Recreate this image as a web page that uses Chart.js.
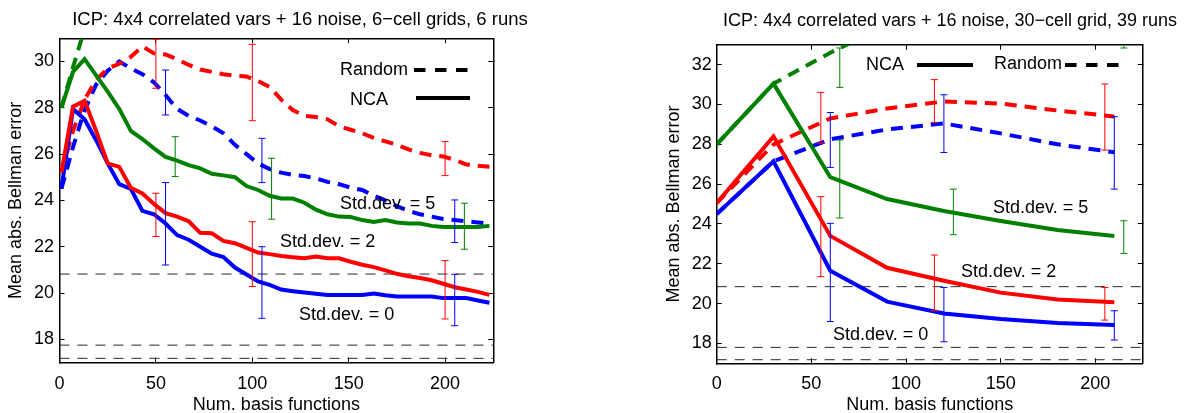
<!DOCTYPE html>
<html><head><meta charset="utf-8">
<script src="https://cdn.jsdelivr.net/npm/chart.js@4.4.1/dist/chart.umd.min.js"></script>
<style>
html,body{margin:0;padding:0;background:#fff;overflow:hidden;}
#wrap{position:relative;width:1186px;height:413px;overflow:hidden;background:#fff;}
#c1{position:absolute;left:0;top:0;}
#c2{position:absolute;left:600px;top:0;}
</style></head><body>
<div id="wrap"><canvas id="c1" width="600" height="413"></canvas><canvas id="c2" width="700" height="413"></canvas></div>
<script>
// ---------- data: left panel (6-cell grids, 6 runs) ----------
const titleLeft = 'ICP: 4x4 correlated vars + 16 noise, 6\u2212cell grids, 6 runs';
const titleRight = 'ICP: 4x4 correlated vars + 16 noise, 30\u2212cell grid, 39 runs';
const xAxisTitle = 'Num. basis functions';
const yAxisTitle = 'Mean abs. Bellman error';
const legendLabels = ['NCA', 'Random'];
const stdLabels = ['Std.dev. = 5', 'Std.dev. = 2', 'Std.dev. = 0'];

const xTicksLeft = [0, 50, 100, 150, 200];
const yTicksLeft = [18, 20, 22, 24, 26, 28, 30];
const xTicksRight = [0, 50, 100, 150, 200];
const yTicksRight = [18, 20, 22, 24, 26, 28, 30, 32];

const xLeft = [1,7,13,19,25,31,37,43,49,55,61,67,73,79,85,91,97,103,109,115,121,127,133,139,145,151,157,163,169,175,181,187,193,199,205,211,217,223];
const ncaBlueL = [24.5,27.95,27.5,26.6,25.6,24.7,24.5,23.55,23.4,23.0,22.5,22.3,22.0,21.7,21.55,21.1,20.8,20.5,20.35,20.15,20.08,20.02,19.97,19.92,19.92,19.92,19.92,19.98,19.9,19.85,19.85,19.85,19.85,19.78,19.78,19.78,19.68,19.58];
const ncaRedL = [25.2,28.05,28.3,27.0,25.6,25.45,24.55,24.3,23.85,23.45,23.3,23.1,22.6,22.58,22.25,22.15,21.95,21.75,21.68,21.6,21.55,21.5,21.58,21.5,21.5,21.35,21.22,21.12,20.98,20.83,20.72,20.65,20.55,20.4,20.25,20.15,20.05,19.92];
const ncaGreenL = [28.0,29.55,30.1,29.4,28.7,27.95,27.0,26.65,26.25,25.88,25.72,25.52,25.38,25.15,25.08,25.0,24.62,24.45,24.2,24.08,24.08,23.9,23.6,23.4,23.3,23.28,23.15,23.07,23.15,23.05,23.0,23.0,22.9,22.85,22.85,22.85,22.85,22.9];
const rndBlueL = [24.5,26.3,27.9,29.0,29.6,30.0,29.7,29.45,29.1,28.55,27.95,27.65,27.45,27.2,26.9,26.4,26.0,25.6,25.35,25.2,25.1,25.05,24.95,24.8,24.7,24.55,24.45,24.2,24.0,23.75,23.55,23.4,23.3,23.2,23.15,23.1,23.05,23.0];
const rndRedL = [25.2,27.0,28.35,29.2,29.7,29.9,30.2,30.65,30.35,30.3,30.1,29.85,29.65,29.55,29.45,29.38,29.35,29.15,28.9,28.35,27.9,27.65,27.6,27.5,27.2,27.05,26.9,26.7,26.55,26.4,26.2,26.05,25.95,25.9,25.75,25.55,25.5,25.45];
const rndGreenL = [28.0,29.75,31.4,33.0];

const errRedXL = [50,50,100,100,200,200];
const errRedLoL = [28.84,22.44,27.44,20.28,25.07,18.88];
const errRedHiL = [30.96,24.31,30.74,23.08,26.54,21.40];
const errBlueXL = [55,55,105,105,205,205];
const errBlueLoL = [27.69,21.21,24.77,18.91,22.18,18.59];
const errBlueHiL = [29.63,24.77,26.68,22.0,24.02,20.81];
const errGreenXL = [60,110,210];
const errGreenLoL = [25.03,23.19,21.89];
const errGreenHiL = [26.75,25.82,23.88];
const refLevelsL = [20.82,17.75,17.18];

// ---------- data: right panel (30-cell grid, 39 runs) ----------
const xRight = [0,30,60,90,120,150,180,210];
const ncaBlueR = [24.5,27.15,21.65,20.1,19.5,19.22,19.02,18.93];
const ncaRedR = [25.05,28.4,23.4,21.8,21.15,20.55,20.2,20.07];
const ncaGreenR = [28.0,31.05,26.35,25.25,24.65,24.15,23.7,23.4];
const rndBlueR = [24.5,27.15,28.25,28.75,29.05,28.55,28.0,27.6];
const rndRedR = [25.05,28.0,29.3,29.8,30.15,30.05,29.7,29.4];
const rndGreenR = [28.0,31.05,32.6,34.0];

const errRedXR = [55,55,115,115,205,205];
const errRedLoR = [28.05,21.35,29.1,19.64,27.71,19.17];
const errRedHiR = [30.61,25.37,31.25,22.44,31.03,20.81];
const errBlueXR = [60,60,120,120,210,210];
const errBlueLoR = [26.84,19.1,27.59,18.08,25.75,18.17];
const errBlueHiR = [29.6,24.03,30.49,20.81,29.39,19.64];
const errGreenXR = [65,65,125,215,215];
const errGreenLoR = [30.86,24.3,23.46,22.52,32.84];
const errGreenHiR = [32.84,28.22,25.75,24.16,34.5];
const refLevelsR = [20.85,17.8,17.18];

// ---------- helpers ----------
const FAMILY = "'Liberation Sans', Arial, Helvetica, sans-serif";
const BLUE = '#0000ff', RED = '#ff0000', GREEN = '#008000';
Chart.defaults.font.family = FAMILY;

const pts = (xs, ys) => ys.map((y, i) => ({x: xs[i], y}));
function errPts(xs, lo, hi) {
  const out = [];
  xs.forEach((x, i) => { out.push({x, y: lo[i]}, {x, y: hi[i]}, {x, y: null}); });
  return out;
}
function refPts(levels, x0, x1) {
  const out = [];
  levels.forEach(v => { out.push({x: x0, y: v}, {x: x1, y: v}, {x: x0, y: null}); });
  return out;
}
const lineDs = (data, color, dashed) => ({
  data, borderColor: color, backgroundColor: color, borderWidth: 4,
  borderDash: dashed ? [12, 8] : [], pointRadius: 0, tension: 0, fill: false
});
const errDs = (data, color) => ({
  data, borderColor: color, backgroundColor: color, borderWidth: 1,
  pointStyle: 'line', pointRadius: 3.5, pointBorderWidth: 1, pointBorderColor: color,
  pointHoverRadius: 0, tension: 0, fill: false, spanGaps: false
});
const refDs = (data) => ({
  data, borderColor: 'rgba(0,0,0,0.85)', borderWidth: 1, borderDash: [10, 8],
  pointRadius: 0, tension: 0, fill: false, spanGaps: false
});

const annotPlugin = {
  id: 'annot',
  afterDraw(chart, args, opts) {
    const ctx = chart.ctx;
    ctx.save();
    ctx.font = '18px ' + FAMILY;
    ctx.fillStyle = '#000';
    ctx.textBaseline = 'middle';
    (opts.texts || []).forEach(t => { ctx.textAlign = t.align || 'left'; ctx.fillText(t.text, t.x, t.y); });
    ctx.strokeStyle = '#000';
    ctx.lineWidth = 4;
    (opts.lines || []).forEach(l => {
      ctx.beginPath(); ctx.setLineDash(l.dash || []);
      ctx.moveTo(l.x1, l.y); ctx.lineTo(l.x2, l.y); ctx.stroke();
    });
    ctx.restore();
  }
};

function scalesFor(p) {
  const tickFont = {family: FAMILY, size: 18};
  const grid = {display: true, drawOnChartArea: false, drawTicks: true, tickLength: -5, color: '#000', lineWidth: 1};
  const border = {display: true, color: '#000', width: 1.5};
  const setX = s => { s.ticks = p.xTicks.map(v => ({value: v})); };
  const setY = s => { s.ticks = p.yTicks.map(v => ({value: v})); };
  return {
    x: {type: 'linear', position: 'bottom', min: p.xMin, max: p.xMax,
      afterBuildTicks: setX, afterFit: s => { s.height = p.xAxisH; },
      grid, border,
      ticks: {font: tickFont, color: '#000', padding: p.xPad, maxRotation: 0, autoSkip: false},
      title: {display: true, text: xAxisTitle, font: {family: FAMILY, size: 18}, color: '#000', padding: {top: 0, bottom: p.xTitlePadB}}},
    x2: {type: 'linear', position: 'top', min: p.xMin, max: p.xMax,
      afterBuildTicks: setX, afterFit: s => { s.height = p.topAxisH; },
      grid, border, ticks: {display: false}},
    y: {type: 'linear', position: 'left', min: p.yMin, max: p.yMax,
      afterBuildTicks: setY, afterFit: s => { s.width = p.yAxisW; },
      grid, border,
      ticks: {font: tickFont, color: '#000', padding: p.yPad},
      title: {display: true, text: yAxisTitle, font: {family: FAMILY, size: 18}, color: '#000', padding: {top: p.yTitlePadT, bottom: 0}}},
    y2: {type: 'linear', position: 'right', min: p.yMin, max: p.yMax,
      afterBuildTicks: setY, afterFit: s => { s.width = p.rightW; },
      grid, border, ticks: {display: false}}
  };
}

function makeChart(id, p, datasets, annot) {
  return new Chart(document.getElementById(id), {
    type: 'line',
    data: {datasets},
    options: {
      responsive: false, animation: false, devicePixelRatio: 1,
      parsing: true, normalized: true,
      layout: {padding: 0},
      plugins: {
        legend: {display: false}, tooltip: {enabled: false},
        title: {display: true, text: p.title, color: '#000', font: {family: FAMILY, size: p.titleSize, weight: 'normal'}, padding: {top: p.titlePadT, bottom: 0}},
        annot
      },
      scales: scalesFor(p)
    },
    plugins: [annotPlugin]
  });
}

// ---------- left chart ----------
const pL = {title: titleLeft, titleSize: 18.5, xMin: 0, xMax: 225, yMin: 17, yMax: 31, xTicks: xTicksLeft, yTicks: yTicksLeft,
  xAxisH: 50.5, topAxisH: 7.3, yAxisW: 59.5, rightW: 106.7, titlePadT: 8.8,
  xPad: 15.7, yPad: 10.5, yTitlePadT: 5.4, xTitlePadB: -2.8};
makeChart('c1', pL, [
  errDs(errPts(errRedXL, errRedLoL, errRedHiL), RED),
  errDs(errPts(errBlueXL, errBlueLoL, errBlueHiL), BLUE),
  errDs(errPts(errGreenXL, errGreenLoL, errGreenHiL), GREEN),
  lineDs(pts(xLeft, ncaRedL), RED, false),
  lineDs(pts(xLeft, ncaBlueL), BLUE, false),
  lineDs(pts(xLeft, ncaGreenL), GREEN, false),
  lineDs(pts(xLeft, rndRedL), RED, true),
  lineDs(pts(xLeft, rndBlueL), BLUE, true),
  lineDs(pts(xLeft, rndGreenL), GREEN, true),
  refDs(refPts(refLevelsL, 0, 225))
], {
  texts: [
    {text: legendLabels[1], x: 408, y: 70, align: 'right'},
    {text: legendLabels[0], x: 388, y: 100, align: 'right'},
    {text: stdLabels[0], x: 340, y: 204},
    {text: stdLabels[1], x: 280, y: 242},
    {text: stdLabels[2], x: 299, y: 315}
  ],
  lines: [
    {x1: 414, x2: 468, y: 70, dash: [11.5, 9.5]},
    {x1: 416, x2: 470, y: 98}
  ]
});

// ---------- right chart ----------
const pR = {title: titleRight, titleSize: 18, xMin: 0, xMax: 225, yMin: 17, yMax: 33, xTicks: xTicksRight, yTicks: yTicksRight,
  xAxisH: 49.7, topAxisH: 12.6, yAxisW: 116.7, rightW: 157.3, titlePadT: 10.6,
  xPad: 15.1, yPad: 10, yTitlePadT: 63.2, xTitlePadB: -2.8};
makeChart('c2', pR, [
  errDs(errPts(errRedXR, errRedLoR, errRedHiR), RED),
  errDs(errPts(errBlueXR, errBlueLoR, errBlueHiR), BLUE),
  errDs(errPts(errGreenXR, errGreenLoR, errGreenHiR), GREEN),
  lineDs(pts(xRight, ncaRedR), RED, false),
  lineDs(pts(xRight, ncaBlueR), BLUE, false),
  lineDs(pts(xRight, ncaGreenR), GREEN, false),
  lineDs(pts(xRight, rndRedR), RED, true),
  lineDs(pts(xRight, rndBlueR), BLUE, true),
  lineDs(pts(xRight, rndGreenR), GREEN, true),
  refDs(refPts(refLevelsR, 0, 225))
], {
  texts: [
    {text: legendLabels[0], x: 304, y: 65, align: 'right'},
    {text: legendLabels[1], x: 462, y: 64, align: 'right'},
    {text: stdLabels[0], x: 393, y: 208},
    {text: stdLabels[1], x: 361, y: 272},
    {text: stdLabels[2], x: 233, y: 335}
  ],
  lines: [
    {x1: 317, x2: 373, y: 65},
    {x1: 465, x2: 520, y: 65, dash: [11.5, 9.5]}
  ]
});
</script>
</body></html>
